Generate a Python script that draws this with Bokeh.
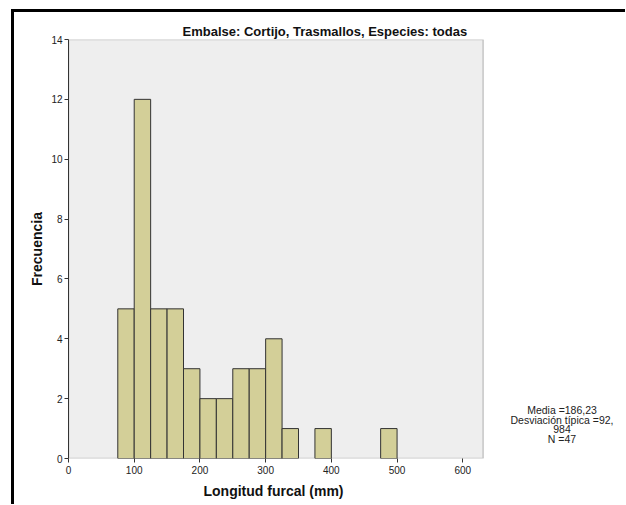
from bokeh.plotting import figure
from bokeh.models import Range1d, FixedTicker, Label, BoxAnnotation, Title
from bokeh.embed import file_html
from bokeh.resources import INLINE

# Histogram data (bin width 25 mm)
bin_left = [75, 100, 125, 150, 175, 200, 225, 250, 275, 300, 325, 375, 475]
bin_right = [100, 125, 150, 175, 200, 225, 250, 275, 300, 325, 350, 400, 500]
counts = [5, 12, 5, 5, 3, 2, 2, 3, 3, 4, 1, 1, 1]

x_ticks = [0, 100, 200, 300, 400, 500, 600]
y_ticks = [0, 2, 4, 6, 8, 10, 12, 14]

title_text = "Embalse: Cortijo, Trasmallos, Especies: todas"
x_label = "Longitud furcal (mm)"
y_label = "Frecuencia"
stats_lines = ["Media =186,23", "Desviación típica =92,", "984", "N =47"]

FONT = "Liberation Sans"

# Axis extent of the shaded plot box; the visible canvas continues to the right
X_MAX, Y_MAX = 631, 14
X_VIEW = 840

p = figure(width=614, height=495, output_backend="svg", toolbar_location=None,
           x_range=Range1d(0, X_VIEW), y_range=Range1d(0, Y_MAX),
           min_border_left=54, min_border_right=8, min_border_top=27,
           min_border_bottom=49)
p.styles = {"border-top": "3px solid black", "border-left": "3px solid black",
            "margin-left": "11px", "margin-top": "9px"}

p.background_fill_color = "white"
p.border_fill_color = "white"
p.outline_line_color = None
p.xgrid.grid_line_color = None
p.ygrid.grid_line_color = None

p.add_layout(BoxAnnotation(left=0, right=X_MAX, bottom=0, top=Y_MAX,
                           fill_color="#eeeeee", fill_alpha=1.0,
                           line_color="#555555", line_width=1.5,
                           level="underlay"))

p.quad(left=bin_left, right=bin_right, top=counts, bottom=0,
       fill_color="#d3cf98", line_color="#333333", line_width=1)

p.title.text = title_text
p.title.text_font = FONT
p.title.text_font_size = "13px"
p.title.text_font_style = "bold"
p.title.text_color = "#111111"
p.title.align = "left"
p.title.offset = 114
p.title.standoff = 1

for ax, ticks in ((p.xaxis, x_ticks), (p.yaxis, y_ticks)):
    ax.ticker = FixedTicker(ticks=ticks)
    ax.major_tick_in = 0
    ax.major_tick_out = 4
    ax.minor_tick_line_color = None
    ax.axis_line_color = "#333333"
    ax.major_tick_line_color = "#333333"
    ax.major_label_text_font = FONT
    ax.major_label_text_font_size = "10px"
    ax.major_label_text_color = "#222222"
    ax.axis_label_text_font = FONT
    ax.axis_label_text_font_size = "14px"
    ax.axis_label_text_font_style = "bold"
    ax.axis_label_text_color = "#111111"

p.xaxis.axis_line_color = None
p.xaxis.major_label_standoff = 3
p.yaxis.axis_label = y_label
p.yaxis.major_label_standoff = 2
p.yaxis.axis_label_standoff = 3

# x-axis title, centred under the shaded box (not the whole frame)
p.add_layout(Title(text=x_label, align="left", offset=135, standoff=8,
                   text_font=FONT, text_font_size="14px",
                   text_font_style="bold", text_color="#111111"), "below")

stat_y = [1.61, 1.29, 0.97, 0.65]
for txt, yy in zip(stats_lines, stat_y):
    p.add_layout(Label(x=751, y=yy, text=txt, text_align="center",
                       text_baseline="middle", text_font=FONT,
                       text_font_size="10.5px", text_color="#222222"))

open("out.html", "w").write(file_html(p, INLINE))
